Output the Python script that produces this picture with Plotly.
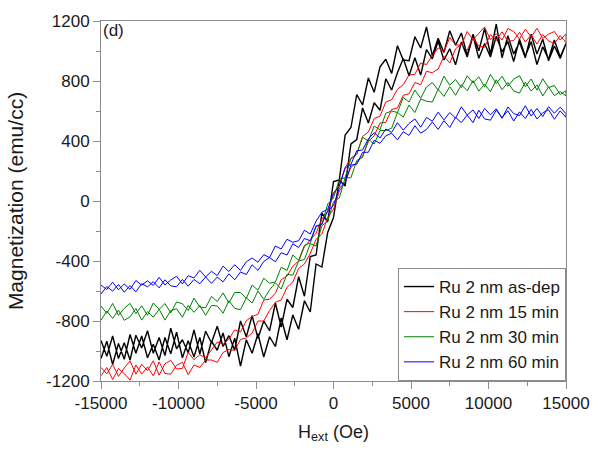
import plotly.graph_objects as go

# Applied field grid (Oe)
H = [-15000, -14625, -14250, -13875, -13500, -13125, -12750, -12375, -12000, -11625,
     -11250, -10875, -10500, -10125, -9750, -9375, -9000, -8625, -8250, -7875,
     -7500, -7125, -6750, -6375, -6000, -5625, -5250, -4875, -4500, -4125,
     -3750, -3375, -3000, -2625, -2250, -1875, -1500, -1125, -750, -375,
     0, 375, 750, 1125, 1500, 1875, 2250, 2625, 3000, 3375,
     3750, 4125, 4500, 4875, 5250, 5625, 6000, 6375, 6750, 7125,
     7500, 7875, 8250, 8625, 9000, 9375, 9750, 10125, 10500, 10875,
     11250, 11625, 12000, 12375, 12750, 13125, 13500, 13875, 14250, 14625,
     15000]

# Ru 2 nm as-dep (emu/cc)
asdep_desc = [-930, -1035, -900, -1050, -945, -1060, -895, -980, -865, -1015,
              -910, -1030, -848, -985, -925, -1012, -860, -1020, -868, -945,
              -835, -970, -898, -995, -800, -905, -765, -915, -800, -865,
              -680, -840, -655, -710, -505, -635, -370, -360, -80, -140,
              130, 140, 440, 490, 710, 640, 820, 725, 895, 945,
              850, 1035, 940, 935, 1095, 1020, 1160, 968, 1085, 990,
              1135, 1038, 1120, 970, 1112, 1002, 1150, 980, 1180, 955,
              1102, 980, 1058, 955, 1112, 980, 1078, 935, 1033, 950,
              1050]
asdep_asc = [-1050, -935, -1090, -950, -1055, -890, -1015, -900, -1045, -955,
             -1060, -910, -1018, -875, -1045, -932, -1040, -910, -1078, -935,
             -995, -880, -1038, -915, -1100, -925, -1015, -885, -1040, -905,
             -970, -780, -925, -760, -855, -665, -740, -420, -440, -210,
             -110, 140, 100, 380, 410, 620, 520, 655, 605, 815,
             740, 855, 950, 835, 955, 840, 1010, 948, 1065, 940,
             1015, 908, 1060, 960, 1102, 952, 1050, 960, 1098, 995,
             1062, 930, 1078, 965, 1062, 910, 1028, 945, 1073, 960,
             1050]

# Ru 2 nm 15 min
m15_desc = [-1109, -1153, -1089, -1169, -1113, -1066, -1154, -1089, -1131, -1065,
            -1161, -1085, -1062, -1120, -1116, -1009, -1058, -1025, -1045, -995,
            -940, -955, -920, -860, -873, -798, -770, -755, -660, -655,
            -615, -525, -500, -435, -400, -305, -260, -215, -120, -70,
            45, 105, 225, 280, 310, 430, 460, 550, 565, 660,
            675, 745, 775, 840, 845, 920, 910, 970, 1020, 995,
            1090, 1040, 1040, 1130, 1075, 1118, 1160, 1075, 1115, 1073,
            1150, 1130, 1080, 1145, 1093, 1151, 1084, 1112, 1130, 1073,
            1115]
m15_asc = [-1165, -1110, -1190, -1117, -1151, -1194, -1093, -1154, -1106, -1166,
           -1073, -1150, -1154, -1095, -1076, -1158, -1093, -1110, -1060, -1060,
           -1075, -1010, -990, -995, -923, -913, -880, -800, -800, -730,
           -675, -660, -575, -540, -450, -420, -350, -255, -220, -110,
           -55, 65, 125, 225, 255, 300, 395, 435, 520, 525,
           610, 620, 705, 715, 790, 775, 865, 855, 880, 965,
           920, 1015, 1045, 1005, 1090, 1033, 1025, 1110, 1070, 1128,
           1065, 1070, 1125, 1060, 1108, 1046, 1109, 1067, 1050, 1103,
           1055]

# Ru 2 nm 30 min
m30_desc = [-700, -749, -683, -762, -715, -683, -751, -699, -762, -680,
            -722, -684, -746, -673, -685, -731, -647, -707, -712, -636,
            -670, -613, -680, -610, -610, -650, -560, -595, -515, -548,
            -540, -442, -463, -360, -395, -295, -280, -165, -155, -20,
            20, 145, 155, 285, 315, 425, 400, 500, 475, 585,
            600, 590, 690, 660, 740, 685, 760, 790, 740, 832,
            772, 810, 756, 835, 787, 828, 759, 844, 783, 832,
            765, 813, 835, 762, 813, 739, 815, 756, 770, 710,
            735]
m30_asc = [-795, -734, -783, -727, -795, -773, -716, -794, -737, -775,
           -722, -794, -731, -718, -775, -696, -742, -697, -762, -696,
           -700, -748, -665, -715, -725, -645, -680, -600, -655, -593,
           -545, -587, -488, -495, -400, -390, -285, -300, -165, -135,
           -5, 20, 155, 155, 270, 290, 410, 380, 470, 470,
           485, 590, 560, 640, 590, 680, 665, 660, 745, 697,
           762, 705, 776, 735, 802, 733, 779, 729, 808, 742,
           790, 733, 720, 792, 733, 774, 700, 761, 702, 730,
           700]

# Ru 2 nm 60 min
m60_desc = [-560, -590, -541, -592, -553, -589, -530, -561, -532, -563,
            -509, -560, -526, -502, -553, -498, -513, -462, -506, -469,
            -497, -434, -470, -425, -463, -405, -380, -408, -358, -377,
            -300, -320, -255, -275, -265, -195, -220, -135, -75, -55,
            55, 95, 220, 245, 335, 340, 415, 455, 420, 480,
            457, 522, 472, 517, 547, 492, 557, 532, 592, 541,
            590, 552, 628, 573, 607, 550, 617, 574, 615, 551,
            627, 583, 569, 635, 566, 617, 563, 629, 585, 626,
            582]
m60_asc = [-620, -570, -601, -557, -608, -564, -605, -551, -572, -538,
           -579, -525, -566, -572, -523, -568, -523, -552, -506, -549,
           -507, -539, -485, -525, -473, -490, -425, -463, -403, -377,
           -405, -345, -360, -285, -310, -250, -265, -170, -155, -65,
           -30, 85, 125, 240, 245, 325, 325, 405, 385, 435,
           452, 407, 462, 437, 502, 452, 477, 527, 477, 536,
           490, 557, 523, 573, 522, 605, 547, 539, 605, 556,
           602, 533, 594, 550, 611, 547, 588, 609, 545, 601,
           557]

series_names = ["Ru 2 nm as-dep", "Ru 2 nm 15 min", "Ru 2 nm 30 min", "Ru 2 nm 60 min"]
series_asc = [asdep_asc, m15_asc, m30_asc, m60_asc]
series_desc = [asdep_desc, m15_desc, m30_desc, m60_desc]
colors = ["#000000", "#ff0000", "#008000", "#0000ff"]
widths = [1.4, 1.0, 1.0, 1.0]

x_tickvals = [-15000, -10000, -5000, 0, 5000, 10000, 15000]
x_ticktext = ["-15000", "-10000", "-5000", "0", "5000", "10000", "15000"]
y_tickvals = [-1200, -800, -400, 0, 400, 800, 1200]
y_ticktext = ["-1200", "-800", "-400", "0", "400", "800", "1200"]

fig = go.Figure()
for name, asc, desc, c, w in zip(series_names, series_asc, series_desc, colors, widths):
    fig.add_trace(go.Scatter(
        x=H + H[::-1], y=asc + desc[::-1], mode="lines", name=name,
        line=dict(color=c, width=w)))

axis_common = dict(
    showline=True, linecolor="#8c8c8c", linewidth=1, mirror=True,
    showgrid=False, zeroline=False, ticks="outside", ticklen=7,
    tickcolor="#8c8c8c", tickwidth=1,
    tickfont=dict(size=17, color="#1a1a1a"),
)

fig.update_layout(
    width=602, height=450, autosize=False,
    margin=dict(l=101, r=33, t=16, b=68),
    paper_bgcolor="white", plot_bgcolor="white",
    font=dict(family="Liberation Sans, Arial, sans-serif", color="#1a1a1a"),
    xaxis=dict(
        range=[-15000, 15000], tickmode="array",
        tickvals=x_tickvals, ticktext=x_ticktext,
        minor=dict(tickmode="linear", tick0=0, dtick=2500, ticks="outside",
                   ticklen=4, tickcolor="#8c8c8c"),
        title=dict(text="H<sub>ext</sub> (Oe)", font=dict(size=18), standoff=12),
        **axis_common),
    yaxis=dict(
        range=[-1200, 1200], tickmode="array",
        tickvals=y_tickvals, ticktext=y_ticktext,
        minor=dict(tickmode="linear", tick0=0, dtick=200, ticks="outside",
                   ticklen=4, tickcolor="#8c8c8c"),
        title=dict(text="Magnetization (emu/cc)", font=dict(size=21), standoff=16),
        **axis_common),
    legend=dict(
        x=1, y=0, xanchor="right", yanchor="bottom",
        bgcolor="white", bordercolor="#8c8c8c", borderwidth=1,
        font=dict(size=17, color="#1a1a1a"), tracegroupgap=0,
        itemwidth=30),
    annotations=[dict(text="(d)", xref="paper", yref="paper", x=0, y=1,
                      xanchor="left", yanchor="top", showarrow=False,
                      font=dict(size=17, color="#1a1a1a"), xshift=0, yshift=2)],
    showlegend=True,
)

fig.write_html("out.html")
